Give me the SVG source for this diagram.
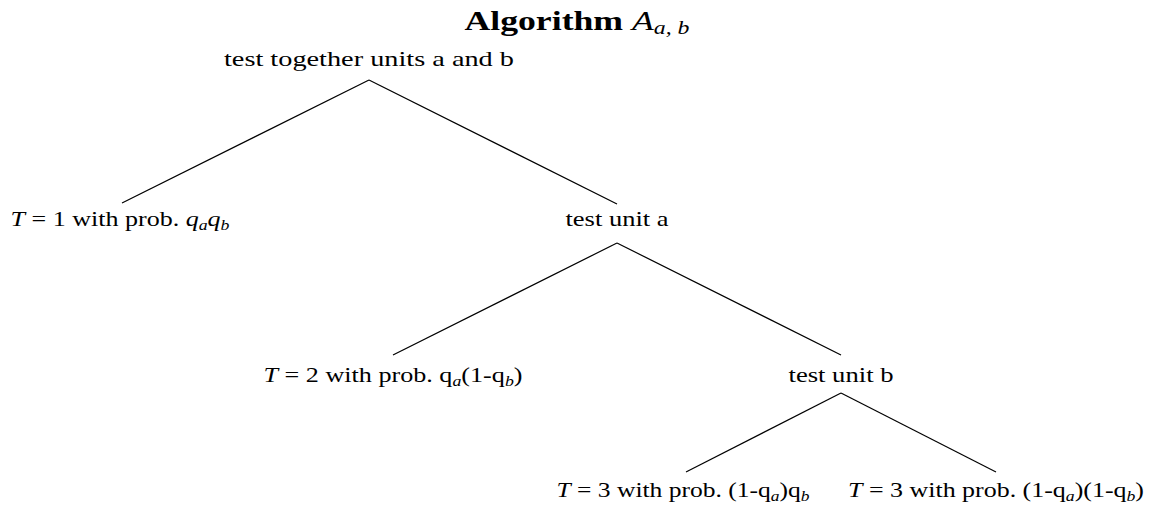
<svg xmlns="http://www.w3.org/2000/svg" width="1151" height="506" viewBox="0 0 1151 506">
<style>
text{font-family:"Liberation Serif","DejaVu Serif",serif;font-size:22px;fill:#000}
.title{font-size:27px;font-weight:bold}
.i{font-style:italic}
.s{font-style:italic;font-size:15px}
.ts{font-style:italic;font-size:18px;font-weight:normal}
line{stroke:#000;stroke-width:1.2}
</style>
<rect width="1151" height="506" fill="#fff"/>
<text x="577" y="30" text-anchor="middle" class="title" textLength="225" lengthAdjust="spacingAndGlyphs">Algorithm <tspan class="i" font-weight="normal">A</tspan><tspan class="ts" dy="4">a, b</tspan></text>
<g id="connectors">
<line x1="369" y1="80" x2="122" y2="203"/>
<line x1="369" y1="80" x2="617" y2="204"/>
<line x1="617" y1="243" x2="393" y2="355"/>
<line x1="617" y1="243" x2="841" y2="355"/>
<line x1="841" y1="393" x2="686" y2="472"/>
<line x1="841" y1="393" x2="996" y2="472"/>
</g>
<g id="root"><text x="369" y="66" text-anchor="middle" textLength="290" lengthAdjust="spacingAndGlyphs">test together units a and b</text></g>
<g id="t1"><text x="120" y="226" text-anchor="middle" textLength="219" lengthAdjust="spacingAndGlyphs"><tspan class="i">T</tspan> = 1 with prob.  <tspan class="i">q</tspan><tspan class="s" dy="4">a</tspan><tspan class="i" dy="-4">q</tspan><tspan class="s" dy="4">b</tspan></text></g>
<g id="unita"><text x="617" y="226" text-anchor="middle" textLength="103" lengthAdjust="spacingAndGlyphs">test unit a</text></g>
<g id="t2"><text x="393" y="382" text-anchor="middle" textLength="259" lengthAdjust="spacingAndGlyphs"><tspan class="i">T</tspan> = 2 with prob.  q<tspan class="s" dy="4">a</tspan><tspan dy="-4">(1-q</tspan><tspan class="s" dy="4">b</tspan><tspan dy="-4">)</tspan></text></g>
<g id="unitb"><text x="841" y="382" text-anchor="middle" textLength="105" lengthAdjust="spacingAndGlyphs">test unit b</text></g>
<g id="t3a"><text x="683" y="497" text-anchor="middle" textLength="253" lengthAdjust="spacingAndGlyphs"><tspan class="i">T</tspan> = 3 with prob.  (1-q<tspan class="s" dy="4">a</tspan><tspan dy="-4">)q</tspan><tspan class="s" dy="4">b</tspan></text></g>
<g id="t3b"><text x="996" y="497" text-anchor="middle" textLength="296" lengthAdjust="spacingAndGlyphs"><tspan class="i">T</tspan> = 3 with prob.  (1-q<tspan class="s" dy="4">a</tspan><tspan dy="-4">)(1-q</tspan><tspan class="s" dy="4">b</tspan><tspan dy="-4">)</tspan></text></g>
</svg>
